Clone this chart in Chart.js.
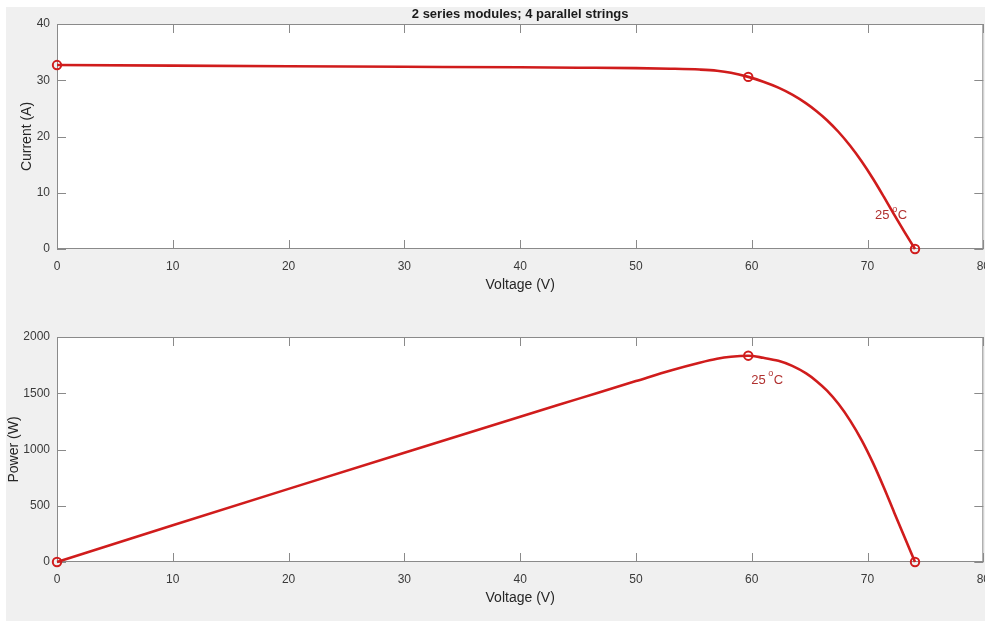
<!DOCTYPE html>
<html><head><meta charset="utf-8">
<script src="https://cdn.jsdelivr.net/npm/chart.js@4.4.1/dist/chart.umd.min.js"></script>
<style>
html,body{margin:0;padding:0;background:#fff;width:985px;height:621px;overflow:hidden;}
#bg{position:absolute;left:6px;top:7px;width:979px;height:614px;background:#f0f0f0;}
#c1{position:absolute;left:0;top:0;}
#c2{position:absolute;left:0;top:310px;}
</style></head><body>
<div id="bg"></div>
<canvas id="c1" width="1000" height="310"></canvas>
<canvas id="c2" width="1000" height="311"></canvas>
<script>
// ---- data ----
const voltage = [0, 10, 20, 30, 40, 45, 50, 53, 55.5, 57, 58.2, 59.7, 61, 62.3, 63.5, 64.7, 65.6, 66.5, 67.5, 68.5, 69.5, 70.5, 71.4, 72.3, 73.2, 74.1];
const current = [32.7, 32.6, 32.5, 32.4, 32.3, 32.23, 32.15, 32.05, 31.9, 31.7, 31.35, 30.6, 29.75, 28.7, 27.45, 25.9, 24.5, 22.9, 20.8, 18.35, 15.55, 12.4, 9.3, 6.1, 3.0, 0];
const power   = [0, 326, 650, 972, 1292, 1450, 1608, 1703, 1772, 1807, 1825, 1834, 1815, 1788, 1743, 1676, 1607, 1523, 1404, 1257, 1081, 874, 664, 441, 220, 0];
const markerVoltage = [0, 59.7, 74.1];
const markerCurrent = [32.7, 30.6, 0];
const markerPower   = [0, 1834, 0];
const xTicks = [0, 10, 20, 30, 40, 50, 60, 70, 80];
const currentTicks = [0, 10, 20, 30, 40];
const powerTicks = [0, 500, 1000, 1500, 2000];
const figureTitle = '2 series modules; 4 parallel strings';
const xTitle = 'Voltage (V)';
const currentTitle = 'Current (A)';
const powerTitle = 'Power (W)';
const tempText = '25';
const currentLabelAt = [70.65, 5.9];
const powerLabelAt = [59.95, 1618];

const FONT = '"Liberation Sans", Arial, Helvetica, sans-serif';
const RED = '#d01c1c';
const LABEL_RED = '#b0302f';
const AXIS = '#8a8a8a';
const TEXT = '#3a3a3a';

function pts(xs, ys){ return xs.map((x,i)=>({x:x, y:ys[i]})); }

function framePlugin(label, title){
  return {
    id:'frame',
    beforeDraw(chart){
      const {ctx, chartArea:a} = chart;
      ctx.save();
      ctx.fillStyle = '#fff';
      ctx.fillRect(a.left, a.top, a.right-a.left, a.bottom-a.top);
      ctx.restore();
    },
    beforeDatasetsDraw(chart){
      const {ctx, chartArea:a, scales:{x, y}} = chart;
      ctx.save();
      ctx.strokeStyle = AXIS; ctx.lineWidth = 1;
      ctx.strokeRect(a.left+0.5, a.top+0.5, a.right-a.left-1, a.bottom-a.top-1);
      const tl = 9;
      ctx.beginPath();
      x.ticks.forEach(t=>{
        const px = Math.round(x.getPixelForValue(t.value))+0.5;
        ctx.moveTo(px, a.bottom); ctx.lineTo(px, a.bottom-tl);
        ctx.moveTo(px, a.top); ctx.lineTo(px, a.top+tl);
      });
      y.ticks.forEach(t=>{
        const py = Math.round(y.getPixelForValue(t.value))+0.5;
        ctx.moveTo(a.left, py); ctx.lineTo(a.left+tl, py);
        ctx.moveTo(a.right, py); ctx.lineTo(a.right-tl, py);
      });
      ctx.stroke();
      // temperature label
      const lx = x.getPixelForValue(label[0]);
      const ly = y.getPixelForValue(label[1]);
      ctx.fillStyle = LABEL_RED;
      ctx.textBaseline = 'middle'; ctx.textAlign = 'left';
      ctx.font = '13px ' + FONT;
      const t1 = tempText + ' ';
      ctx.fillText(t1, lx, ly);
      let w = ctx.measureText(t1).width;
      ctx.font = '9px ' + FONT;
      ctx.fillText('o', lx + w - 1, ly - 6);
      w += ctx.measureText('o').width - 0.5;
      ctx.font = '13px ' + FONT;
      ctx.fillText('C', lx + w, ly);
      ctx.restore();
    },
    afterDraw(chart){
      if(!title) return;
      const {ctx, chartArea:a} = chart;
      ctx.save();
      ctx.fillStyle = '#1a1a1a';
      ctx.font = 'bold 13px ' + FONT;
      ctx.textAlign = 'center'; ctx.textBaseline = 'middle';
      ctx.fillText(title, (a.left+a.right)/2, 14);
      ctx.restore();
    }
  };
}

function makeChart(id, ys, mys, yTicks, yTitle, yTitlePad, xTitlePad, xHeight, topPad, label, title){
  const ymin = yTicks[0], ymax = yTicks[yTicks.length-1];
  return new Chart(document.getElementById(id), {
    type:'line',
    data:{ datasets:[
      { data: pts(voltage, ys), borderColor: RED, borderWidth: 2.6, pointRadius: 0,
        cubicInterpolationMode:'monotone', fill:false, clip:false, order:2 },
      { data: pts(markerVoltage, mys), showLine:false, pointRadius: 4.2, pointBorderWidth: 2,
        pointBorderColor: RED, pointBackgroundColor:'rgba(255,255,255,0)', borderColor: RED, clip:false, order:1 }
    ]},
    options:{
      responsive:false, animation:false, devicePixelRatio: window.devicePixelRatio || 1,
      layout:{ padding:{ top: topPad, right: 14, left: 0, bottom: 0 } },
      plugins:{ legend:{display:false}, tooltip:{enabled:false}, title:{display:false} },
      scales:{
        x:{ type:'linear', min: xTicks[0], max: xTicks[xTicks.length-1],
            afterBuildTicks: s => { s.ticks = xTicks.map(v=>({value:v})); },
            afterFit: s => { s.height = xHeight; },
            grid:{display:false, drawTicks:false}, border:{display:false},
            ticks:{ autoSkip:false, maxRotation:0, padding: 10, color: TEXT, font:{family:FONT, size:12},
                    callback: v => String(v) },
            title:{ display:true, text:xTitle, color:'#262626', font:{family:FONT, size:14}, padding:{top:0, bottom:xTitlePad} } },
        y:{ type:'linear', min: ymin, max: ymax,
            afterBuildTicks: s => { s.ticks = yTicks.map(v=>({value:v})); },
            afterFit: s => { s.width = 57; },
            grid:{display:false, drawTicks:false}, border:{display:false},
            ticks:{ padding: 7, color: TEXT, font:{family:FONT, size:12}, callback: v => String(v) },
            title:{ display:true, text:yTitle, color:'#262626', font:{family:FONT, size:14}, padding:{top:yTitlePad, bottom:0} } }
      }
    },
    plugins:[framePlugin(label, title)]
  });
}

makeChart('c1', current, markerCurrent, currentTicks, currentTitle, 18.6, 16.6, 61, 24, currentLabelAt, figureTitle);
makeChart('c2', power, markerPower, powerTicks, powerTitle, 5.6, 14.6, 59, 27, powerLabelAt, null);
</script>
</body></html>
